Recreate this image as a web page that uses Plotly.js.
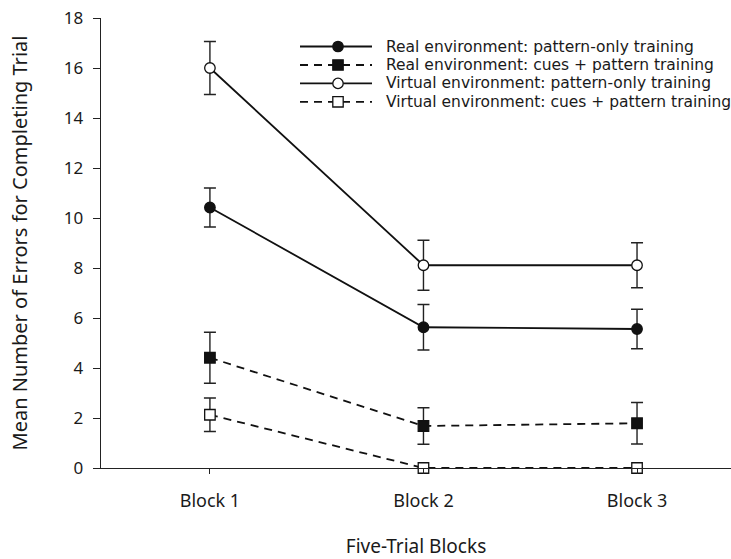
<!DOCTYPE html>
<html><head><meta charset="utf-8">
<script src="https://cdn.plot.ly/plotly-3.0.1.min.js"></script>
<style>html,body{margin:0;padding:0;background:#fff}#chart{width:731px;height:559px}</style>
</head><body><div id="chart"></div>
<script>
const blocks = ["Block 1", "Block 2", "Block 3"];
const realPattern = [10.42, 5.63, 5.56];
const realPatternErr = [0.78, 0.91, 0.79];
const realCues = [4.41, 1.68, 1.79];
const realCuesErr = [1.02, 0.73, 0.83];
const virtPattern = [16.0, 8.11, 8.11];
const virtPatternErr = [1.06, 1.0, 0.9];
const virtCues = [2.13, 0, 0];
const virtCuesErr = [0.67, 0, 0];
const names = [
  "Real environment: pattern-only training",
  "Real environment: cues + pattern training",
  "Virtual environment: pattern-only training",
  "Virtual environment: cues + pattern training"
];

const ink = "#111";
const DASH = "8px,6px";
const styles = [
  {dash: "solid", symbol: "circle", fill: ink},
  {dash: DASH, symbol: "square", fill: ink},
  {dash: "solid", symbol: "circle", fill: "#fff"},
  {dash: DASH, symbol: "square", fill: "#fff"}
];
const series = [realPattern, realCues, virtPattern, virtCues];
const errs = [realPatternErr, realCuesErr, virtPatternErr, virtCuesErr];

const data = series.map((y, i) => ({
  x: blocks, y: y, name: names[i], type: "scatter", mode: "lines+markers",
  cliponaxis: false, showlegend: false,
  line: {color: ink, width: 1.8, dash: styles[i].dash},
  marker: {symbol: styles[i].symbol, size: 10.5, color: styles[i].fill, line: {color: ink, width: 1.3}},
  error_y: {type: "data", array: errs[i], visible: true, color: "#222", thickness: 1.4, width: 6}
}));

// Hand-built legend (sample line + marker + label) in paper coordinates
const W = 630, H = 450;              // plot area size in px
const lx0 = (300 - 101) / W, lx1 = (372 - 101) / W, lmx = (338 - 101) / W;
const ltx = (385 - 101) / W;
const rowsPx = [46.5, 65, 83.4, 101.8];
const shapes = [], annotations = [];
rowsPx.forEach((py, i) => {
  const yy = (468 - py) / H;
  shapes.push({type: "line", xref: "paper", yref: "paper", x0: lx0, x1: lx1, y0: yy, y1: yy,
               line: {color: ink, width: 1.8, dash: styles[i].dash}});
  const rx = 5.2 / W, ry = 5.2 / H;
  shapes.push({type: styles[i].symbol === "circle" ? "circle" : "rect", xref: "paper", yref: "paper",
               x0: lmx - rx, x1: lmx + rx, y0: yy - ry, y1: yy + ry,
               fillcolor: styles[i].fill, line: {color: ink, width: 1.3}});
  annotations.push({xref: "paper", yref: "paper", x: ltx, y: yy, xanchor: "left", yanchor: "middle",
                    text: names[i], showarrow: false, borderpad: 0,
                    font: {size: 15.5, family: "DejaVu Sans, Noto Sans, sans-serif"}});
});

const layout = {
  width: 731, height: 559,
  margin: {l: 101, r: 0, t: 18, b: 91},
  paper_bgcolor: "#fff", plot_bgcolor: "#fff",
  font: {family: "Noto Sans, Open Sans, sans-serif", color: "#1a1a1a", size: 15},
  showlegend: false,
  shapes: shapes, annotations: annotations,
  xaxis: {
    type: "category", categoryorder: "array", categoryarray: blocks,
    range: [-0.51, 2.44],
    showline: true, linecolor: "#222", linewidth: 1.3, zeroline: false, showgrid: false,
    ticks: "outside", ticklen: 5, tickcolor: "#222", ticklabelstandoff: 11,
    tickfont: {size: 18},
    title: {text: "Five-Trial Blocks", font: {size: 19}, standoff: 36}
  },
  yaxis: {
    range: [0, 18], dtick: 2, tick0: 0,
    showline: true, linecolor: "#222", linewidth: 1.3, zeroline: false, showgrid: false,
    ticks: "outside", ticklen: 7, tickcolor: "#222", ticklabelstandoff: 6,
    tickfont: {size: 17},
    title: {text: "Mean Number of Errors for Completing Trial", font: {size: 20}, standoff: 30}
  }
};
Plotly.newPlot("chart", data, layout, {displayModeBar: false, staticPlot: true});
</script></body></html>
